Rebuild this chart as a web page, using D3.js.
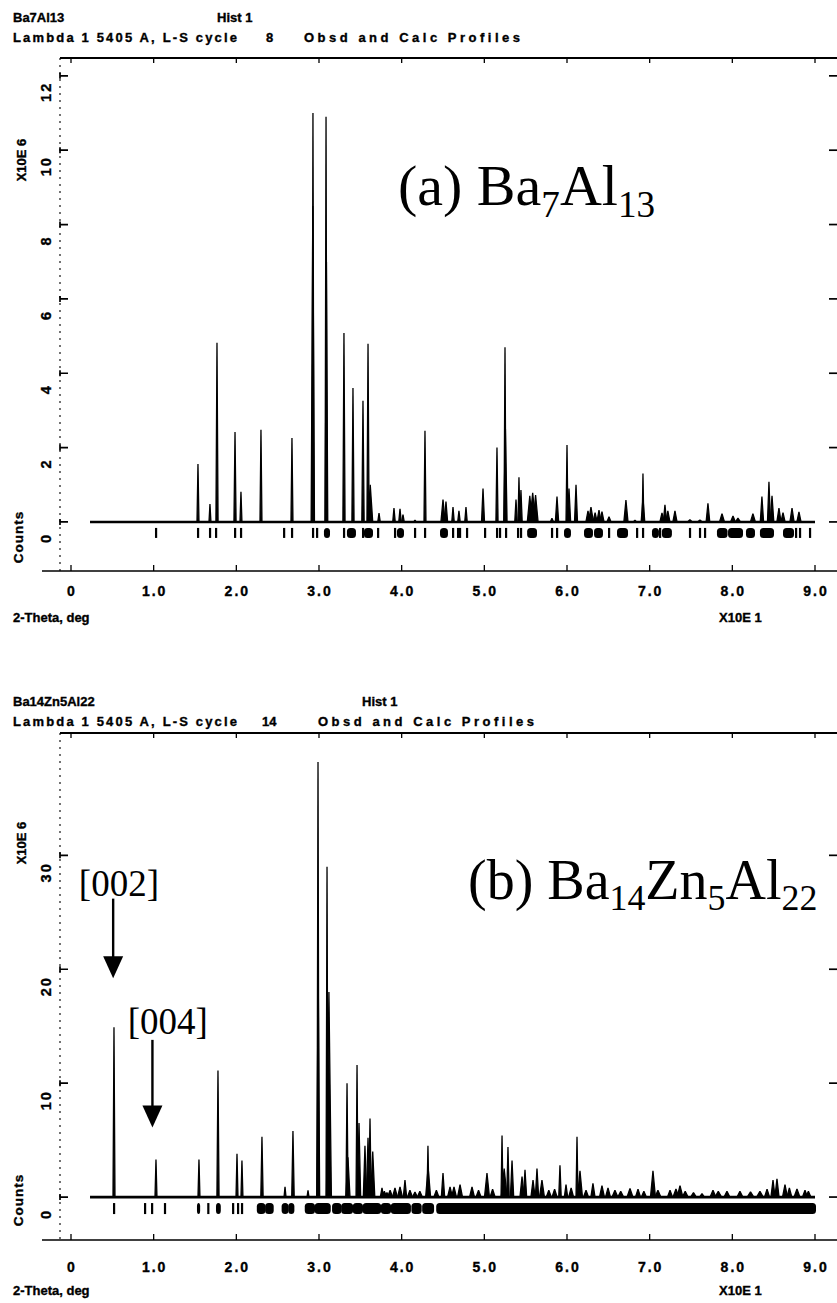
<!DOCTYPE html>
<html><head><meta charset="utf-8">
<script src="https://cdn.jsdelivr.net/npm/d3@7"></script>
<style>
body{margin:0;background:#fff}
svg{display:block}
.gs{font-family:"Liberation Sans",Arial,sans-serif;font-weight:700;fill:#000;stroke:#000;stroke-width:0.35}
.big{font-family:"Liberation Serif","Times New Roman",serif;fill:#000}
</style>
</head><body>
<svg id="chart" width="837" height="1303"></svg>
<script>
// ---------- axis ticks ----------
const xTickValues = [0,10,20,30,40,50,60,70,80,90];
const xTickLabels = ["0","1.0","2.0","3.0","4.0","5.0","6.0","7.0","8.0","9.0"];
const yTickValuesA = [0,2,4,6,8,10,12];
const yTickLabelsA = ["0","2","4","6","8","10","12"];
const yTickValuesB = [0,10,20,30];
const yTickLabelsB = ["0","10","20","30"];
const scanRange = [2.3, 90];

// ---------- Ba7Al13 : peaks [2-theta deg, counts x1e6, half-width deg] ----------
const peaksA = [
  [15.36,1.56,0.12],[16.81,0.48,0.12],[17.66,4.82,0.13],[19.84,2.42,0.13],[20.56,0.81,0.12],
  [22.98,2.48,0.12],[26.73,2.26,0.12],[29.27,11.0,0.12],[29.25,8.5,0.2],[30.85,10.9,0.12],
  [30.9,7.0,0.16],[33.02,5.08,0.13],[34.11,3.6,0.13],[35.32,3.26,0.14],[35.93,4.79,0.13],
  [36.2,1.0,0.3],[37.26,0.24,0.15],[39.07,0.37,0.15],[39.8,0.35,0.15],[40.16,0.2,0.15],
  [41.61,0.05,0.15],[42.82,2.45,0.12],[45.0,0.6,0.25],[45.36,0.55,0.2],[46.21,0.4,0.15],
  [46.93,0.3,0.15],[47.78,0.4,0.15],[49.84,0.9,0.18],[51.53,2.0,0.13],[52.5,4.7,0.12],
  [52.55,2.5,0.2],[53.83,0.6,0.15],[54.19,1.2,0.12],[54.43,0.86,0.15],[55.5,0.7,0.3],
  [55.85,0.78,0.35],[56.2,0.72,0.3],[58.18,0.1,0.2],[58.79,0.68,0.2],[60.0,2.07,0.12],
  [60.24,0.9,0.2],[61.09,1.0,0.18],[62.54,0.3,0.25],[62.9,0.4,0.3],[63.4,0.25,0.25],
  [63.87,0.32,0.25],[64.23,0.28,0.25],[65.08,0.14,0.25],[67.13,0.59,0.25],[68.22,0.05,0.2],
  [69.19,1.3,0.1],[69.19,0.64,0.22],[71.49,0.24,0.25],[71.85,0.46,0.2],[72.2,0.3,0.25],
  [73.06,0.3,0.25],[74.87,0.06,0.3],[76.08,0.05,0.3],[77.05,0.5,0.22],[78.75,0.22,0.3],
  [80.08,0.16,0.3],[80.68,0.1,0.3],[82.49,0.22,0.3],[83.58,0.68,0.2],[84.43,1.08,0.18],
  [84.8,0.7,0.22],[85.64,0.37,0.25],[86.13,0.25,0.25],[87.22,0.37,0.25],[88.06,0.27,0.25]
];
// reflection markers [from, to] in 2-theta deg
const reflectionsA = [
  [10.28,10.28],[15.36,15.36],[16.81,16.81],[17.54,17.54],[19.84,19.84],[20.56,20.56],
  [25.77,25.77],[26.73,26.73],[29.27,29.27],[29.76,29.76],[30.72,31.21],[33.02,33.02],
  [33.5,34.35],[35.32,35.32],[35.56,36.41],[37.14,37.14],[39.19,39.19],[39.55,40.16],
  [41.61,41.61],[42.82,42.82],[44.76,45.48],[46.21,46.21],[46.81,46.81],[47.05,47.05],
  [47.9,47.9],[50.08,50.08],[51.53,51.53],[51.89,51.89],[52.62,52.62],[54.07,54.07],
  [54.43,54.43],[55.3,56.25],[58.18,58.18],[58.79,58.79],[59.76,60.36],[62.18,63.02],
  [63.39,64.23],[65.08,65.08],[66.17,67.26],[68.47,68.47],[69.19,69.19],[70.4,71.0],
  [71.25,71.25],[71.6,72.57],[74.87,74.87],[76.08,76.08],[76.69,76.69],[78.26,79.3],
  [79.6,81.17],[81.77,82.62],[83.46,84.92],[86.25,87.34],[87.7,87.7],[88.18,88.18],[89.39,89.39]
];

// ---------- Ba14Zn5Al22 ----------
const peaksB = [
  [5.2,14.9,0.12],[10.28,3.3,0.12],[15.48,3.3,0.12],[17.78,11.1,0.13],[20.08,3.8,0.12],
  [20.68,3.2,0.12],[23.1,5.3,0.14],[25.89,0.9,0.12],[26.85,5.8,0.15],[28.67,0.6,0.12],
  [29.88,38.2,0.12],[29.9,20,0.18],[30.97,29.0,0.12],[31.2,18,0.3],[33.39,10.0,0.13],
  [33.5,3.5,0.25],[34.6,11.6,0.12],[34.84,6.5,0.2],[35.56,4.5,0.2],[35.93,5.2,0.2],
  [36.17,6.9,0.15],[36.5,4.0,0.25],[37.62,0.8,0.2],[37.9,0.5,0.3],[38.22,0.4,0.2],
  [38.6,0.6,0.3],[39.19,0.8,0.3],[39.8,0.9,0.3],[40.4,1.5,0.2],[41.0,0.6,0.3],
  [41.61,0.45,0.3],[42.2,0.5,0.3],[43.18,4.5,0.12],[43.2,2.6,0.3],[44.2,0.6,0.3],
  [45.0,2.1,0.2],[45.85,0.9,0.3],[46.33,0.9,0.3],[47.06,1.1,0.3],[48.51,0.9,0.3],
  [49.3,0.6,0.3],[50.32,2.1,0.3],[51.0,0.7,0.3],[52.14,5.4,0.12],[52.4,2.5,0.35],
  [52.86,4.4,0.15],[53.35,3.2,0.2],[54.56,1.8,0.25],[54.92,2.4,0.2],[55.89,1.5,0.25],
  [56.37,2.5,0.2],[56.97,1.5,0.3],[57.8,0.6,0.3],[58.5,0.7,0.3],[59.15,2.8,0.15],
  [59.88,1.1,0.2],[60.5,0.8,0.3],[61.21,5.3,0.12],[61.57,2.3,0.3],[62.3,0.6,0.3],
  [63.14,1.2,0.25],[64.23,1.0,0.3],[64.96,0.8,0.3],[65.8,0.6,0.35],[66.5,0.5,0.35],
  [67.62,0.75,0.35],[68.59,0.7,0.3],[69.3,0.5,0.3],[70.4,2.3,0.3],[71.0,0.6,0.35],
  [72.46,0.6,0.3],[73.18,0.7,0.35],[73.67,1.0,0.35],[74.3,0.5,0.35],[75.3,0.4,0.35],
  [76.33,0.3,0.3],[77.66,0.6,0.35],[78.3,0.5,0.4],[79.35,0.5,0.35],[80.92,0.5,0.35],
  [82.2,0.45,0.4],[83.34,0.5,0.4],[84.2,0.7,0.3],[84.92,1.5,0.25],[85.4,1.6,0.25],
  [86.37,1.1,0.3],[86.9,0.8,0.3],[87.82,0.7,0.35],[88.79,0.6,0.3],[89.2,0.5,0.3]
];
const reflectionsB = [
  [5.2,5.2],[8.95,8.95],[9.8,9.8],[11.36,11.36],[15.36,15.5],[16.6,16.6],[17.66,18.0],
  [19.6,19.6],[20.2,20.2],[20.68,20.68],[22.6,23.4],[23.6,24.4],[25.6,26.2],[26.4,26.9],
  [28.4,29.4],[29.6,31.3],[31.7,32.6],[32.8,34.0],[34.2,35.2],[35.4,37.4],[37.6,38.6],
  [38.8,41.0],[41.3,42.3],[42.6,43.8],[44.3,90.0]
];

// arrow annotations: [label, arrow 2-theta, label centre 2-theta, label counts, arrow top counts, arrow tip counts]
const annotationsB = [
  ["[002]", 5.1, 5.8, 26.4, 26.2, 19.2],
  ["[004]", 9.85, 11.7, 14.3, 13.8, 6.1]
];

// ---------- drawing ----------
const svg = d3.select("#chart");
const x = d3.scaleLinear().domain([0, 90]).range([71, 815]);
const LEFT = 60, RIGHT = 837;

function drawPanel(p) {
  const y = d3.scaleLinear().domain(p.yDomain).range([p.bottom, p.top]);
  const g = svg.append("g");

  // header lines
  p.header.forEach(h => {
    const t = g.append("text").attr("class", "gs").attr("x", h[1]).attr("y", h[2])
      .attr("font-size", 13).text(h[0]);
    if (h[3]) t.attr("textLength", h[3]).attr("lengthAdjust", "spacing");
  });

  // frame: top & bottom lines, dotted left side
  g.append("line").attr("x1", LEFT).attr("x2", RIGHT).attr("y1", p.top).attr("y2", p.top)
    .attr("stroke", "#000").attr("stroke-width", 1.8);
  g.append("line").attr("x1", LEFT - 18).attr("x2", RIGHT).attr("y1", p.bottom).attr("y2", p.bottom)
    .attr("stroke", "#000").attr("stroke-width", 1.6);
  g.append("line").attr("x1", LEFT).attr("x2", LEFT).attr("y1", p.top).attr("y2", p.bottom)
    .attr("stroke", "#000").attr("stroke-width", 1.1).attr("stroke-dasharray", "2,5");

  // x ticks on top and bottom
  g.selectAll(".xt-top").data(xTickValues).join("line")
    .attr("x1", d => x(d)).attr("x2", d => x(d)).attr("y1", p.top).attr("y2", p.top + 5)
    .attr("stroke", "#000").attr("stroke-width", 1.3);
  g.selectAll(".xt-bot").data(xTickValues).join("line")
    .attr("x1", d => x(d)).attr("x2", d => x(d)).attr("y1", p.bottom).attr("y2", p.bottom - 6)
    .attr("stroke", "#000").attr("stroke-width", 1.3);
  g.selectAll(".xl").data(xTickValues).join("text").attr("class", "gs")
    .attr("x", d => x(d) + 1).attr("y", p.xLabelY).attr("text-anchor", "middle")
    .attr("font-size", 14).attr("letter-spacing", 2)
    .text((d, i) => xTickLabels[i]);

  // y ticks left (pointing in) and right
  g.selectAll(".ytl").data(p.yTicks).join("path")
    .attr("d", d => `M${LEFT},${y(d) - 3}V${y(d) + 3}M${LEFT},${y(d)}H${LEFT + 8}`)
    .attr("stroke", "#000").attr("stroke-width", 1.7).attr("fill", "none");
  g.selectAll(".ytr").data(p.yTicks).join("line")
    .attr("x1", RIGHT - 8).attr("x2", RIGHT).attr("y1", d => y(d)).attr("y2", d => y(d))
    .attr("stroke", "#000").attr("stroke-width", 1.7);
  g.selectAll(".yl").data(p.yTicks).join("text").attr("class", "gs")
    .attr("transform", d => `translate(${p.yLabelX},${y(d) + p.yLabelShift}) rotate(-90)`)
    .attr("text-anchor", "middle").attr("dy", "0.35em").attr("font-size", 14.5).attr("letter-spacing", 2)
    .text((d, i) => p.yLabels[i]);

  // axis titles
  g.append("text").attr("class", "gs").attr("font-size", 13).attr("text-anchor", "middle")
    .attr("transform", `translate(21,${p.expY}) rotate(-90)`).attr("dy", "0.35em").text("X10E  6");
  g.append("text").attr("class", "gs").attr("font-size", 13.5).attr("text-anchor", "middle")
    .attr("letter-spacing", 1)
    .attr("transform", `translate(18,${p.countsY}) rotate(-90)`).attr("dy", "0.35em").text("Counts");
  g.append("text").attr("class", "gs").attr("font-size", 13).attr("x", 13).attr("y", p.thetaY)
    .text("2-Theta, deg");
  g.append("text").attr("class", "gs").attr("font-size", 13).attr("x", 719).attr("y", p.thetaY)
    .text("X10E  1");

  // baseline of the profile
  g.append("line").attr("x1", x(scanRange[0])).attr("x2", x(scanRange[1]))
    .attr("y1", y(0)).attr("y2", y(0)).attr("stroke", "#000").attr("stroke-width", p.baseWidth);

  // peaks
  const peakLine = d3.line().x(d => x(d[0])).y(d => y(d[1]));
  g.selectAll(".pk").data(p.peaks).join("path")
    .attr("d", d => peakLine([[d[0] - d[2], 0], [d[0], d[1]], [d[0] + d[2], 0]]) + "Z")
    .attr("fill", "#000").attr("stroke", "#000").attr("stroke-width", 1.3).attr("stroke-linejoin", "bevel");

  // reflection markers
  g.selectAll(".rf").data(p.reflections).join("rect")
    .attr("x", d => x(d[0]) - 1).attr("width", d => Math.max(2.2, x(d[1]) - x(d[0]) + 2))
    .attr("y", y(0) + p.refOffset).attr("height", p.refHeight)
    .attr("rx", d => d[1] > d[0] ? 3.5 : 0)
    .attr("fill", "#000");

  // big caption
  const cs = p.caption.size;
  const cap = g.append("text").attr("class", "big").attr("x", p.caption.x).attr("y", p.caption.y)
    .attr("font-size", cs);
  p.caption.parts.forEach(part => {
    const ts = cap.append("tspan").text(part[0]);
    if (part[1]) ts.attr("font-size", cs * 0.64).attr("dy", cs * 0.2);
    else if (part[2]) ts.attr("dy", -cs * 0.2);
  });

  return { g, y };
}

const pa = drawPanel({
  top: 58, bottom: 571, yDomain: [-1.32, 12.48],
  yTicks: yTickValuesA, yLabels: yTickLabelsA, yLabelX: 46, yLabelShift: 16,
  xLabelY: 596, thetaY: 622, expY: 160, countsY: 537, baseWidth: 2.4,
  peaks: peaksA, reflections: reflectionsA, refOffset: 6, refHeight: 10,
  header: [["Ba7Al13", 13, 22], ["Hist  1", 217, 22],
           ["Lambda 1 5405 A, L-S cycle", 13, 42, 224], ["8", 266, 42], ["Obsd  and Calc  Profiles", 304, 42, 216]],
  caption: { x: 398, y: 205, size: 58,
    parts: [["(a) Ba"], ["7", true], ["Al", false, true], ["13", true]] }
});

const pb = drawPanel({
  top: 733, bottom: 1240, yDomain: [-3.77, 40.74],
  yTicks: yTickValuesB, yLabels: yTickLabelsB, yLabelX: 46, yLabelShift: 17,
  xLabelY: 1272, thetaY: 1295, expY: 843, countsY: 1200, baseWidth: 2.8,
  peaks: peaksB, reflections: reflectionsB, refOffset: 6, refHeight: 11,
  header: [["Ba14Zn5Al22", 13, 706], ["Hist  1", 362, 706],
           ["Lambda 1 5405 A, L-S cycle", 13, 726, 224], ["14", 262, 726], ["Obsd  and Calc  Profiles", 318, 726, 216]],
  caption: { x: 468, y: 899, size: 56,
    parts: [["(b) Ba"], ["14", true], ["Zn", false, true], ["5", true], ["Al", false, true], ["22", true]] }
});

// arrows with Miller-index labels
annotationsB.forEach(a => {
  const ax = x(a[1]);
  pb.g.append("text").attr("class", "big").attr("x", x(a[2])).attr("y", pb.y(a[3]))
    .attr("text-anchor", "middle").attr("font-size", 37).text(a[0]);
  const yTop = pb.y(a[4]), yTip = pb.y(a[5]);
  pb.g.append("line").attr("x1", ax).attr("x2", ax).attr("y1", yTop).attr("y2", yTip - 18)
    .attr("stroke", "#000").attr("stroke-width", 2.4);
  pb.g.append("path").attr("d", `M${ax - 10},${yTip - 22}L${ax + 10},${yTip - 22}L${ax},${yTip}Z`)
    .attr("fill", "#000");
});
</script>
</body></html>
